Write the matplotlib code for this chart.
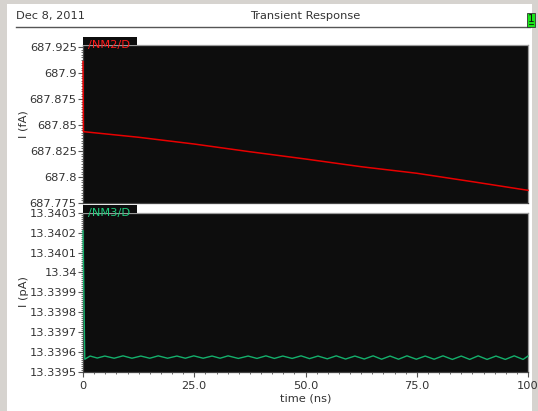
import matplotlib
matplotlib.use("Agg")
import matplotlib.pyplot as plt
from matplotlib.lines import Line2D
from matplotlib.patches import Rectangle
from matplotlib.ticker import FixedLocator, FixedFormatter, AutoMinorLocator

W, H = 538, 411

# /NM2/D drain current (fA)
nm2_t = [0.0, 0.1, 12.5, 25.0, 37.5, 50.0, 62.5, 75.0, 87.5, 100.0]
nm2_i = [687.911, 687.8436, 687.8382, 687.8317, 687.8243, 687.8173,
         687.8099, 687.8036, 687.7955, 687.7872]

# /NM3/D drain current (pA)
nm3_t = [0.0, 0.4, 1.6, 3.2, 4.9, 7.0, 9.0, 11.0, 13.0, 15.0, 16.9, 19.0,
         21.1, 23.0, 24.9, 27.0, 29.0, 30.8, 32.6, 34.9, 37.1, 39.1, 41.1,
         43.0, 44.9, 47.0, 49.0, 50.9, 52.8, 54.9, 56.9, 59.0, 61.1, 63.2,
         65.2, 67.1, 69.0, 70.9, 72.8, 74.9, 76.9, 78.9, 80.9, 83.0, 85.0,
         86.9, 88.8, 90.8, 92.8, 94.9, 96.9, 98.9, 100.0]
nm3_i = [13.34021, 13.339562, 13.339578, 13.339568, 13.339578, 13.339567,
         13.339579, 13.339567, 13.339578, 13.339567, 13.339579, 13.339567,
         13.339578, 13.339567, 13.339579, 13.339567, 13.339578, 13.339567,
         13.339579, 13.339566, 13.339578, 13.339566, 13.339579, 13.339566,
         13.339578, 13.339566, 13.339579, 13.339565, 13.339578, 13.339564,
         13.339579, 13.339563, 13.339578, 13.339563, 13.339579, 13.339562,
         13.339578, 13.339562, 13.339579, 13.339562, 13.339578, 13.339562,
         13.339579, 13.339561, 13.339578, 13.339561, 13.339579, 13.339561,
         13.339578, 13.339561, 13.339579, 13.339561, 13.339578]

x_ticks = [0, 25, 50, 75, 100]
x_labels = ["0", "25.0", "50.0", "75.0", "100"]
nm2_ticks = [687.775, 687.8, 687.825, 687.85, 687.875, 687.9, 687.925]
nm2_labels = ["687.775", "687.8", "687.825", "687.85", "687.875", "687.9", "687.925"]
nm3_ticks = [13.3395, 13.3396, 13.3397, 13.3398, 13.3399, 13.34,
             13.3401, 13.3402, 13.3403]
nm3_labels = ["13.3395", "13.3396", "13.3397", "13.3398", "13.3399", "13.34",
              "13.3401", "13.3402", "13.3403"]

PLOT_BG = "#0d0d0d"
RED = "#e80000"
GREEN = "#14b06c"
TXT = "#333333"
FS = 8.2


def fx(px):
    return px / W


def fy(py):
    return 1 - py / H


def style_axes(ax, ticks, labels, show_x):
    ax.set_facecolor(PLOT_BG)
    ax.set_xlim(0, 100)
    ax.xaxis.set_major_locator(FixedLocator(x_ticks))
    ax.xaxis.set_minor_locator(AutoMinorLocator(10))
    ax.yaxis.set_major_locator(FixedLocator(ticks))
    ax.yaxis.set_major_formatter(FixedFormatter(labels))
    ax.yaxis.set_minor_locator(AutoMinorLocator(10))
    ax.tick_params(which="major", direction="out", length=3.5, width=0.8,
                   color="#555555", labelsize=FS, labelcolor=TXT, pad=1)
    ax.tick_params(which="minor", direction="out", length=1.6, width=0.6,
                   color="#555555")
    if show_x:
        ax.xaxis.set_major_formatter(FixedFormatter(x_labels))
        ax.tick_params(axis="x", pad=3)
    else:
        ax.tick_params(axis="x", which="both", bottom=False, labelbottom=False)
    for side in ("left", "bottom"):
        ax.spines[side].set_color("#444444")
    for side in ("top", "right"):
        ax.spines[side].set_color("#9a9a9a")
    for sp in ax.spines.values():
        sp.set_linewidth(0.9)


def add_tab(ax, name, color):
    h = 8.0 / 158
    ax.add_patch(Rectangle((0, 1.0), 54.0 / 445, h, transform=ax.transAxes,
                           facecolor=PLOT_BG, edgecolor="none",
                           clip_on=False, zorder=5))
    ax.text(5.0 / 445, 1.002, name, transform=ax.transAxes, color=color,
            fontsize=FS, ha="left", va="center", zorder=6, clip_on=False)


fig = plt.figure(figsize=(W / 100, H / 100), dpi=100, facecolor="#d6d3cf")

# white page behind the plots
fig.add_artist(Rectangle((fx(7), 0), fx(532) - fx(7), fy(4),
                         transform=fig.transFigure, facecolor="white",
                         edgecolor="none", zorder=0))

# header
fig.text(fx(16), fy(16), "Dec 8, 2011", fontsize=FS, color=TXT,
         ha="left", va="center")
fig.text(fx(305.5), fy(16), "Transient Response", fontsize=FS, color=TXT,
         ha="center", va="center")
fig.add_artist(Line2D([fx(16), fx(530)], [fy(27), fy(27)],
                      transform=fig.transFigure, color="#555555", lw=1.0))
fig.add_artist(Rectangle((fx(527), fy(27)), fx(8), 14 / H,
                         transform=fig.transFigure, facecolor="#19e619",
                         edgecolor="#333333", lw=0.6, zorder=3))
fig.text(fx(531), fy(19.5), "1", fontsize=7.5, color="#111111",
         ha="center", va="center", zorder=4)
fig.add_artist(Line2D([fx(529), fx(533)], [fy(24.5), fy(24.5)],
                      transform=fig.transFigure, color="#111111", lw=0.6,
                      zorder=4))

# top panel: /NM2/D
ax1 = fig.add_axes([fx(83), fy(203), fx(528) - fx(83), fy(45) - fy(203)])
ax1.plot(nm2_t, nm2_i, color=RED, lw=1.1, zorder=3, clip_on=False)
ax1.set_ylim(687.775, 687.925 + 2.0 / 1040)
style_axes(ax1, nm2_ticks, nm2_labels, show_x=False)
add_tab(ax1, "/NM2/D", "#ff1a1a")

# bottom panel: /NM3/D
ax2 = fig.add_axes([fx(83), fy(371.5), fx(528) - fx(83), fy(213) - fy(371.5)])
ax2.plot(nm3_t, nm3_i, color=GREEN, lw=1.0, zorder=3, clip_on=False)
ax2.set_ylim(13.3395, 13.3403)
style_axes(ax2, nm3_ticks, nm3_labels, show_x=True)
add_tab(ax2, "/NM3/D", "#1fcf7f")

# axis titles
fig.text(fx(24), fy(124), "I (fA)", rotation=90, fontsize=FS, color=TXT,
         ha="center", va="center")
fig.text(fx(24), fy(292), "I (pA)", rotation=90, fontsize=FS, color=TXT,
         ha="center", va="center")
fig.text(fx(305.5), fy(398), "time (ns)", fontsize=FS, color=TXT,
         ha="center", va="center")

fig.savefig("out.png", dpi=100, facecolor=fig.get_facecolor())
